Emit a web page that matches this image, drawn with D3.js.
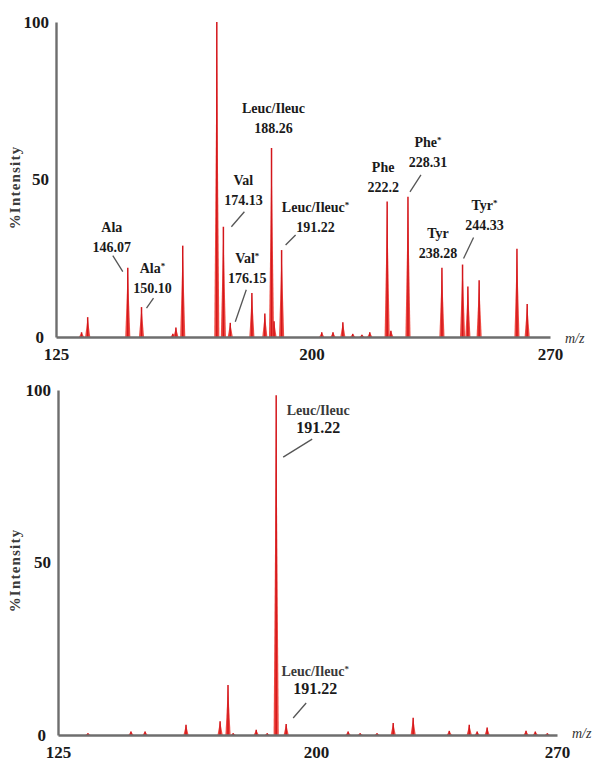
<!DOCTYPE html>
<html>
<head>
<meta charset="utf-8">
<script src="https://cdn.jsdelivr.net/npm/d3@7"></script>
<style>
  body { margin: 0; background: #fff; }
  text { font-family: "Liberation Serif", "DejaVu Serif", serif; }
</style>
</head>
<body>
<div id="chart"></div>
<script>
// peaks: m/z and % intensity
const topMz = [132.5, 134.3, 146.07, 150.10, 159.3, 160.2, 162.2, 172.2, 174.13, 176.15,
    182.5, 186.3, 188.26, 189.0, 191.22, 203.0, 206.3, 209.2, 212.1, 214.8,
    217.1, 222.2, 223.3, 228.31, 238.28, 244.33, 245.9, 249.2, 260.3, 263.3];
const topIntensity = [1.5, 6.3, 22, 9.5, 1, 3, 29, 100, 35, 4.5,
    14, 7.5, 60, 5, 27.6, 1.5, 1.5, 4.7, 1, 0.7,
    1.5, 43, 2, 44.5, 22, 23, 16, 18, 28, 10.5];

const bottomMz = [133.7, 146.2, 150.3, 162.2, 172.1, 174.4, 175.9, 182.6, 185.8, 188.4,
    191.3, 209.3, 212.8, 217.7, 222.4, 228.2, 238.7, 244.5, 246.8, 249.7,
    261.0, 263.7, 267.2];
const bottomIntensity = [0.5, 1, 1, 3, 4, 14.5, 0.5, 1.5, 0.5, 98.5,
    3.2, 1, 0.5, 0.5, 3.5, 5, 1.2, 3, 1, 2.2,
    1.2, 1, 0.5];

// annotations
const topLabelNames = ['Ala', 'Ala', 'Val', 'Val', 'Leuc/Ileuc', 'Leuc/Ileuc', 'Phe', 'Phe', 'Tyr', 'Tyr'];
const topLabelStar = [false, true, false, true, false, true, false, true, false, true];
const topLabelValues = ['146.07', '150.10', '174.13', '176.15', '188.26', '191.22', '222.2', '228.31', '238.28', '244.33'];
const topLabelMz = [146.07, 150.10, 174.13, 176.15, 188.26, 191.22, 222.2, 228.31, 238.28, 244.33];

const bottomLabelNames = ['Leuc/Ileuc', 'Leuc/Ileuc'];
const bottomLabelStar = [false, true];
const bottomLabelValues = ['191.22', '191.22'];
const bottomLabelMz = [188.4, 191.3];

const xTicks = [125, 200, 270];
const yTicks = [0, 50, 100];

// label placement in px relative to the peak top: text dx, value line dy, leader line
const topLayout = [
    { dx: -16, dy: -21, leader: [-15, -12, -5, 4] },
    { dx: 11, dy: -19, leader: [5, 1, 12, -9] },
    { dx: 20, dy: -27, leader: [8, 0, 21, -15] },
    { dx: 17, dy: -45, leader: [5, -1, 16, -33] },
    { dx: 2, dy: -20, leader: null },
    { dx: 34, dy: -23, leader: [4, -5, 14, -15] },
    { dx: -4, dy: -14, leader: null },
    { dx: 20, dy: -35, leader: [2, -5, 13, -22] },
    { dx: -4, dy: -15, leader: null },
    { dx: 22, dy: -39, leader: [1, -6, 11, -27] },
];
const bottomLayout = [
    { dx: 42, dy: 32, leader: [7, 62, 36, 44] },
    { dx: 29, dy: -36, leader: [7, -6, 20, -21] },
];

const WIDTH = 598;
const HEIGHT = 762;
const PEAK_HALF_WIDTH = 0.75;

const svg = d3.select('#chart')
    .append('svg')
    .attr('width', WIDTH)
    .attr('height', HEIGHT);

function drawPanel(opts) {
    const x = d3.scaleLinear().domain([125, 270]).range([opts.left, opts.right]);
    const y = d3.scaleLinear().domain([0, 100]).range([opts.bottom, opts.top]);
    const g = svg.append('g');

    // peaks
    const peaks = opts.mz.map((m, i) => ({ mz: m, h: opts.intensity[i] }));
    g.selectAll('path.peak')
        .data(peaks)
        .enter()
        .append('path')
        .attr('class', 'peak')
        .attr('fill', '#ee4a42')
        .attr('d', (d) => 'M' + x(d.mz - PEAK_HALF_WIDTH) + ',' + y(0)
            + 'L' + x(d.mz) + ',' + y(d.h)
            + 'L' + x(d.mz + PEAK_HALF_WIDTH) + ',' + y(0) + 'Z');
    g.selectAll('line.core')
        .data(peaks)
        .enter()
        .append('line')
        .attr('stroke', '#d3161b')
        .attr('stroke-width', 1.5)
        .attr('x1', (d) => x(d.mz))
        .attr('x2', (d) => x(d.mz))
        .attr('y1', y(0))
        .attr('y2', (d) => y(d.h));

    // axes
    const xAxis = g.append('g')
        .attr('transform', 'translate(0,' + opts.bottom + ')')
        .call(d3.axisBottom(x).tickValues(xTicks).tickSize(0).tickPadding(opts.xPad).tickFormat(d3.format('d')));
    const yAxis = g.append('g')
        .attr('transform', 'translate(' + opts.left + ',0)')
        .call(d3.axisLeft(y).tickValues(yTicks).tickSize(0).tickPadding(7));
    [xAxis, yAxis].forEach((a) => {
        a.select('.domain').attr('stroke', '#6e6e6e').attr('stroke-width', 2.4);
        a.selectAll('text')
            .attr('fill', '#1a1a1a')
            .style('font-family', '"Liberation Serif", serif')
            .style('font-weight', 'bold')
            .style('font-size', '17px');
    });
    // keep the "0" clear of the first x label
    yAxis.selectAll('.tick').filter((d) => d === 0).select('text').attr('dx', '-0.3em');

    // axis titles
    g.append('text')
        .attr('transform', 'translate(20,' + ((opts.top + opts.bottom) / 2 + 8) + ') rotate(-90)')
        .attr('text-anchor', 'middle')
        .attr('fill', '#3a3a3a')
        .style('font-size', '15px')
        .style('font-weight', 'bold')
        .style('letter-spacing', '1.2px')
        .text('%Intensity');
    g.append('text')
        .attr('x', opts.right + 15)
        .attr('y', opts.bottom + opts.mzDy)
        .attr('fill', '#333')
        .style('font-size', '14px')
        .style('font-style', 'italic')
        .text('m/z');

    // peak labels
    opts.labelMz.forEach((m, i) => {
        const idx = opts.mz.indexOf(m);
        const px = x(m);
        const py = y(opts.intensity[idx]);
        const lay = opts.layout[i];
        const name = g.append('text')
            .attr('x', px + lay.dx)
            .attr('y', py + lay.dy - opts.lineGap)
            .attr('dy', '0.35em')
            .attr('text-anchor', 'middle')
            .attr('fill', opts.nameColor)
            .style('font-size', opts.nameSize)
            .style('font-weight', 'bold')
            .text(opts.names[i]);
        if (opts.stars[i]) {
            name.append('tspan')
                .attr('dy', '-0.45em')
                .style('font-size', '9px')
                .text('*');
        }
        g.append('text')
            .attr('x', px + lay.dx)
            .attr('y', py + lay.dy)
            .attr('dy', '0.35em')
            .attr('text-anchor', 'middle')
            .attr('fill', '#1a1a1a')
            .style('font-size', opts.valueSize)
            .style('font-weight', 'bold')
            .text(opts.values[i]);
        if (lay.leader) {
            g.append('line')
                .attr('x1', px + lay.leader[0])
                .attr('y1', py + lay.leader[1])
                .attr('x2', px + lay.leader[2])
                .attr('y2', py + lay.leader[3])
                .attr('stroke', '#555')
                .attr('stroke-width', 1.3);
        }
    });
}

drawPanel({
    left: 56, right: 550, top: 22, bottom: 337, xPad: 11, mzDy: 6,
    mz: topMz, intensity: topIntensity,
    labelMz: topLabelMz, names: topLabelNames, stars: topLabelStar, values: topLabelValues,
    layout: topLayout, lineGap: 20, nameColor: '#1a1a1a', nameSize: '14px', valueSize: '14px',
});

drawPanel({
    left: 58, right: 557, top: 390, bottom: 735, xPad: 11, mzDy: 3,
    mz: bottomMz, intensity: bottomIntensity,
    labelMz: bottomLabelMz, names: bottomLabelNames, stars: bottomLabelStar, values: bottomLabelValues,
    layout: bottomLayout, lineGap: 17, nameColor: '#3a3a3a', nameSize: '14px', valueSize: '16px',
});
</script>
</body>
</html>
